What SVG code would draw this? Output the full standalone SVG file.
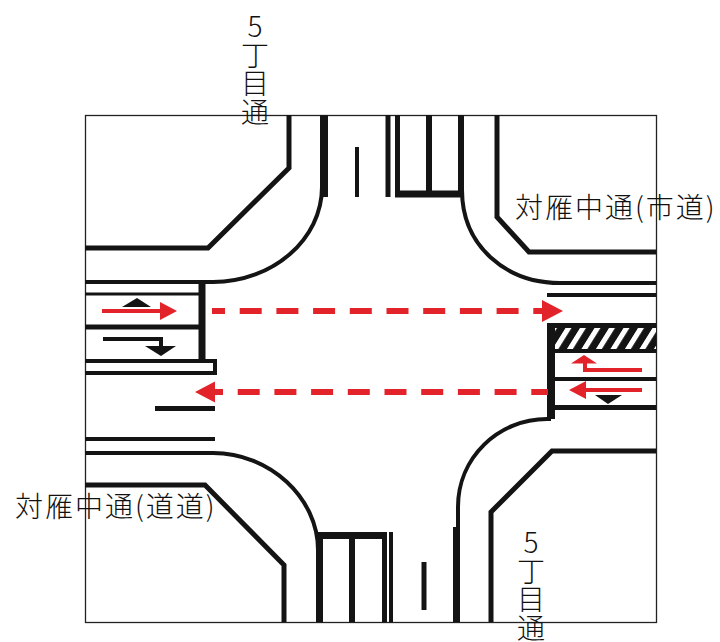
<svg xmlns="http://www.w3.org/2000/svg" width="720" height="642" viewBox="0 0 720 642">
<style>
.ln{fill:none;stroke:#141414;stroke-linecap:butt;stroke-linejoin:miter}
.w3{stroke-width:3}
.w4{stroke-width:4}
.w5{stroke-width:5}
.w6{stroke-width:6}
.w7{stroke-width:7}
.w8{stroke-width:8}
.red{fill:none;stroke:#e3232a;stroke-width:4}
.dash{fill:none;stroke:#e3232a;stroke-width:6;stroke-dasharray:22 14.7}
.rh{fill:#e3232a}
.bh{fill:#141414}
.lbl{font-family:"Noto Sans CJK JP","Noto Sans",sans-serif;font-size:28px;font-weight:300;fill:#111}
.vl{font-family:"Noto Sans CJK JP","Noto Sans",sans-serif;font-size:28px;font-weight:300;fill:#111;text-anchor:middle}
</style>
<defs>
<pattern id="hatch" patternUnits="userSpaceOnUse" width="14.5" height="21" patternTransform="translate(0,328) skewX(-32)">
<rect width="14.5" height="21" fill="#141414"/>
<rect x="0" width="6" height="21" fill="#fff"/>
</pattern>
</defs>
<rect x="0" y="0" width="720" height="642" fill="#fff"/>
<rect id="frame" x="85.5" y="115.5" width="571" height="507" fill="#fff" stroke="#222" stroke-width="1.3"/>

<g id="block-nw">
<polyline class="ln w5" points="85,248 208,248 289,168 289,115"/>
<path class="ln w4" d="M85,282 H213 C273,282 322,239 322,187 V115"/>
</g>
<g id="block-ne">
<polyline class="ln w5" points="497,115 497,217 529,252 656,252"/>
<path class="ln w4" d="M462,190 C462,246 506,283 560,283 H656"/>
</g>
<g id="block-sw">
<polyline class="ln w5" points="85,485 205,485 284,565 284,622"/>
<path class="ln w4" d="M85,453 H213 C270,453 318,498 318,550 V622"/>
</g>
<g id="block-se">
<polyline class="ln w5" points="656,451 552,451 491,512 491,622"/>
<path class="ln w4" d="M551,419 H547 C498,419 458,458 458,507 V622"/>
</g>

<g id="north-approach">
<line class="ln w6" x1="325" y1="115" x2="325" y2="197"/>
<line class="ln w4" x1="357" y1="147" x2="357" y2="197"/>
<line class="ln w5" x1="388" y1="115" x2="388" y2="197"/>
<line class="ln w5" x1="397.5" y1="115" x2="397.5" y2="194"/>
<line class="ln w6" x1="429" y1="115" x2="429" y2="194"/>
<line class="ln w6" x1="461" y1="115" x2="461" y2="197"/>
<line class="ln w7" x1="395" y1="194" x2="464" y2="194"/>
</g>

<g id="south-approach">
<line class="ln w6" x1="320" y1="532" x2="320" y2="622"/>
<line class="ln w7" x1="317" y1="535.5" x2="387" y2="535.5"/>
<line class="ln w6" x1="352" y1="535" x2="352" y2="622"/>
<line class="ln w5" x1="384.5" y1="535" x2="384.5" y2="622"/>
<line class="ln w4" x1="391" y1="532" x2="391" y2="622"/>
<line class="ln w5" x1="424" y1="562" x2="424" y2="610"/>
<line class="ln w6" x1="456" y1="527" x2="456" y2="622"/>
</g>

<g id="west-approach">
<line class="ln w3" x1="85" y1="294" x2="200" y2="294"/>
<line class="ln w7" x1="202" y1="280" x2="202" y2="363"/>
<line class="ln w5" x1="85" y1="327" x2="202" y2="327"/>
<path class="ln w4" d="M85,361 H215 V373 H85"/>
<line class="ln w5" x1="155" y1="408.5" x2="215" y2="408.5"/>
<line class="ln w4" x1="85" y1="439" x2="215" y2="439"/>
<polygon class="bh" points="122,307 137,298 151,307"/>
<line class="red" x1="102" y1="311" x2="162" y2="311"/>
<polygon class="rh" points="160,302 177,311 160,320"/>
<path class="ln w4" d="M103,339 H161 V347"/>
<polygon class="bh" points="145,346 176,346 161,356"/>
</g>

<g id="east-approach">
<line class="ln w4" x1="547" y1="295" x2="656" y2="295"/>
<rect x="547" y="323" width="109" height="30" fill="#141414"/>
<rect x="555" y="328" width="101" height="21" fill="url(#hatch)"/>
<line class="ln w8" x1="551" y1="323" x2="551" y2="419"/>
<line class="ln w4" x1="551" y1="379" x2="656" y2="379"/>
<line class="ln w5" x1="551" y1="407.5" x2="656" y2="407.5"/>
<path class="red" d="M642,370 H585 V362"/>
<polygon class="rh" points="571,363.5 584,355 597,363.5"/>
<polygon class="bh" points="595,395 622,395 608,404"/>
<line class="red" x1="642" y1="390" x2="583" y2="390"/>
<polygon class="rh" points="586,381 569,390 586,399"/>
</g>

<g id="connectors">
<line class="dash" x1="212" y1="311" x2="545" y2="311" stroke-dashoffset="9"/>
<polygon class="rh" points="542,300 563,311 542,322"/>
<line class="dash" x1="214" y1="392" x2="548" y2="392" stroke-dashoffset="13"/>
<polygon class="rh" points="215,381.5 195,392 215,402.5"/>
</g>

<g id="labels">
<text class="lbl" x="515" y="218" letter-spacing="2">対雁中通(市道)</text>
<text class="lbl" x="15" y="517" letter-spacing="2">対雁中通(道道)</text>
<text class="vl" x="255" y="37">5<tspan x="255" dy="28.7">丁</tspan><tspan x="255" dy="28.7">目</tspan><tspan x="255" dy="28.7">通</tspan></text>
<text class="vl" x="531" y="553">5<tspan x="531" dy="28.7">丁</tspan><tspan x="531" dy="28.7">目</tspan><tspan x="531" dy="28.7">通</tspan></text>
</g>
</svg>
